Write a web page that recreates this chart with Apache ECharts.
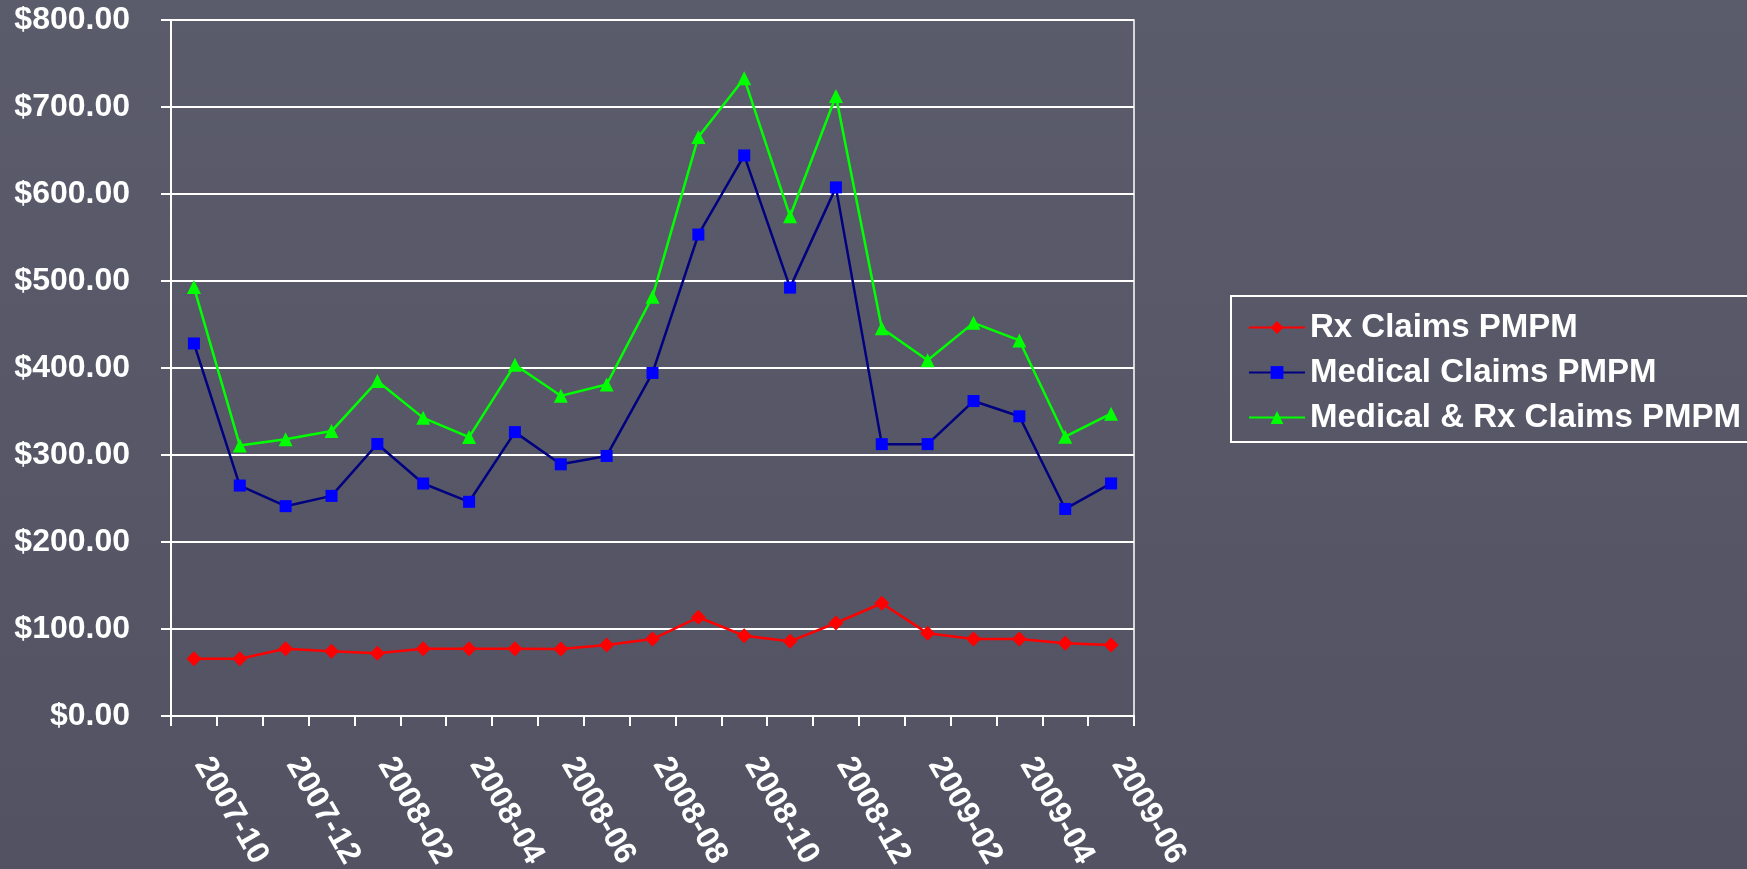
<!DOCTYPE html>
<html>
<head>
<meta charset="utf-8">
<script src="https://cdn.jsdelivr.net/npm/echarts@6/dist/echarts.min.js"></script>
<style>
html,body{margin:0;padding:0;width:1747px;height:869px;overflow:hidden;}
#chart{width:1747px;height:869px;}
</style>
</head>
<body>
<div id="chart"></div>
<script>
const categories = ["2007-10","2007-11","2007-12","2008-01","2008-02","2008-03","2008-04","2008-05","2008-06","2008-07","2008-08","2008-09","2008-10","2008-11","2008-12","2009-01","2009-02","2009-03","2009-04","2009-05","2009-06"];
const rxClaims = [65.8, 65.8, 77.2, 74.5, 72.2, 77.2, 77.2, 77.2, 77.0, 81.5, 88.5, 113.5, 92.3, 85.8, 106.9, 129.6, 95.0, 88.5, 88.5, 83.5, 81.5];
const medicalClaims = [428.2, 264.9, 241.2, 253.0, 312.6, 267.2, 246.2, 326.3, 289.3, 298.9, 394.3, 553.4, 644.3, 492.4, 607.6, 312.5, 312.5, 362.0, 344.5, 238.0, 267.3];
const combinedClaims = [493.0, 311.0, 318.0, 327.5, 385.0, 342.7, 320.6, 403.8, 368.0, 381.0, 482.0, 665.6, 733.0, 574.4, 712.6, 445.8, 409.0, 451.9, 431.7, 321.0, 347.5];
const seriesNames = ["Rx Claims PMPM", "Medical Claims PMPM", "Medical & Rx Claims PMPM"];

const chart = echarts.init(document.getElementById('chart'), null, {renderer: 'canvas'});
const font = '"Liberation Sans", Arial, sans-serif';
chart.setOption({
  animation: false,
  backgroundColor: {
    type: 'linear', x: 0, y: 0, x2: 0, y2: 1,
    colorStops: [{offset: 0, color: '#5b5c6b'}, {offset: 1, color: '#525263'}]
  },
  grid: {
    left: 171, top: 20, right: 613, bottom: 153,
    containLabel: false, outerBoundsMode: 'none',
    show: true, borderColor: '#ffffff', borderWidth: 1.5, backgroundColor: 'transparent'
  },
  legend: {
    orient: 'vertical',
    left: 1231, top: 296,
    padding: [15, 200, 8, 17],
    borderColor: '#ffffff', borderWidth: 2,
    itemWidth: 56, itemHeight: 16, itemGap: 12,
    textStyle: {color: '#ffffff', fontFamily: font, fontWeight: 'bold', fontSize: 33, lineHeight: 33},
    data: seriesNames
  },
  xAxis: {
    type: 'category',
    data: categories,
    boundaryGap: true,
    axisLine: {lineStyle: {color: '#ffffff', width: 2}},
    axisTick: {show: true, interval: 0, length: 10, lineStyle: {color: '#ffffff', width: 2}},
    axisLabel: {
      interval: 1, rotate: -60, margin: 30, padding: [0, 0, 0, 16],
      color: '#ffffff', fontFamily: font, fontWeight: 'bold', fontSize: 32
    },
    splitLine: {show: false}
  },
  yAxis: {
    type: 'value', min: 0, max: 800, interval: 100,
    axisLine: {show: true, lineStyle: {color: '#ffffff', width: 2}},
    axisTick: {show: true, length: 10, lineStyle: {color: '#ffffff', width: 2}},
    axisLabel: {
      margin: 41, color: '#ffffff', fontFamily: font, fontWeight: 'bold', fontSize: 32,
      formatter: v => '$' + v.toFixed(2)
    },
    splitLine: {show: true, lineStyle: {color: '#ffffff', width: 2}}
  },
  series: [
    {
      name: seriesNames[0], type: 'line', data: rxClaims,
      symbol: 'diamond', symbolSize: 15,
      lineStyle: {color: '#ff0000', width: 2.5},
      itemStyle: {color: '#ff0000'}
    },
    {
      name: seriesNames[1], type: 'line', data: medicalClaims,
      symbol: 'rect', symbolSize: 12,
      lineStyle: {color: '#000080', width: 2.5},
      itemStyle: {color: '#0000ff'}
    },
    {
      name: seriesNames[2], type: 'line', data: combinedClaims,
      symbol: 'triangle', symbolSize: 14,
      lineStyle: {color: '#00ff00', width: 2.5},
      itemStyle: {color: '#00ff00'}
    }
  ]
});
</script>
</body>
</html>
